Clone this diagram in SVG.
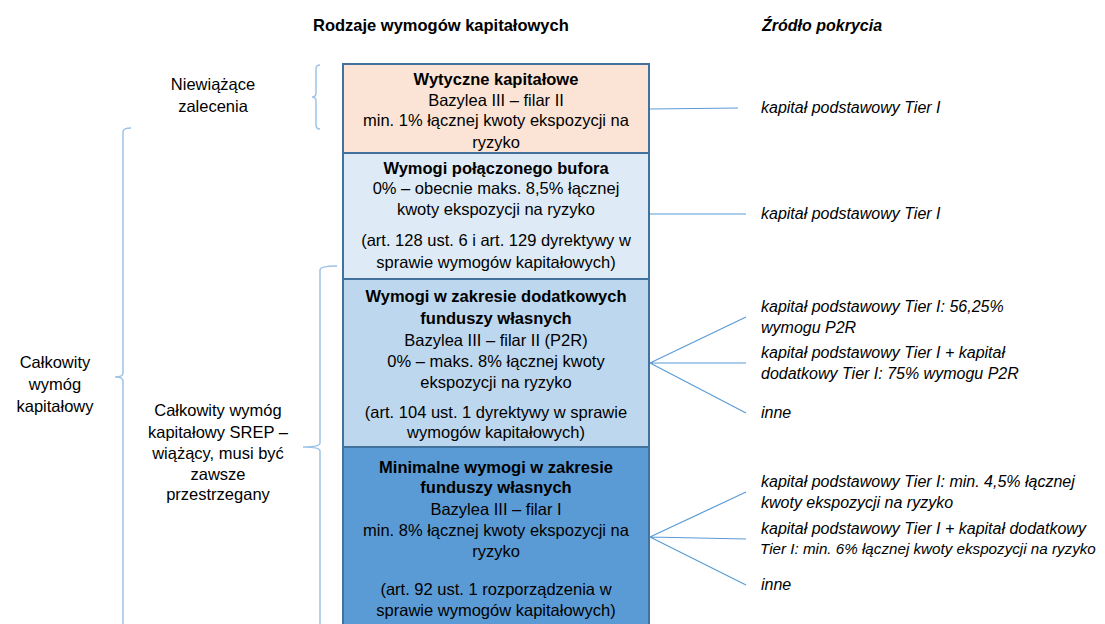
<svg xmlns="http://www.w3.org/2000/svg" width="1105" height="624" viewBox="0 0 1105 624">
<style>
text{font-family:"Liberation Sans",Arial,sans-serif;font-size:16.5px;fill:#000}
.b{font-weight:bold}
.c{text-anchor:middle}
.i{font-style:italic}
.s{font-size:16px}
.box{stroke:#41719C;stroke-width:2}
.br{fill:none;stroke:#9DC3E6;stroke-width:1.5}
.ln{fill:none;stroke:#5B9BD5;stroke-width:1.2}
</style>
<rect width="1105" height="624" fill="#fff"/>
<g id="headers">
<text class="b" x="313" y="31">Rodzaje wymogów kapitałowych</text>
<text class="b i s" x="762" y="31">Źródło pokrycia</text>
</g>
<g id="box1">
<rect class="box" x="343" y="64" width="306" height="89" fill="#FBE4D5"/>
<text class="c" x="496"><tspan class="b" x="496" y="85">Wytyczne kapitałowe</tspan><tspan x="496" y="106">Bazylea III – filar II</tspan><tspan x="496" y="126">min. 1% łącznej kwoty ekspozycji na</tspan><tspan x="496" y="148">ryzyko</tspan></text>
</g>
<g id="box2">
<rect class="box" x="343" y="153" width="306" height="126" fill="#DEEBF7"/>
<text class="c" x="496"><tspan class="b" x="496" y="174">Wymogi połączonego bufora</tspan><tspan x="496" y="194">0% – obecnie maks. 8,5% łącznej</tspan><tspan x="496" y="215">kwoty ekspozycji na ryzyko</tspan><tspan x="496" y="246">(art. 128 ust. 6 i art. 129 dyrektywy w</tspan><tspan x="496" y="268">sprawie wymogów kapitałowych)</tspan></text>
</g>
<g id="box3">
<rect class="box" x="343" y="279" width="306" height="168" fill="#BDD7EE"/>
<text class="c" x="496"><tspan class="b" x="496" y="302">Wymogi w zakresie dodatkowych</tspan><tspan class="b" x="496" y="324">funduszy własnych</tspan><tspan x="496" y="346">Bazylea III – filar II (P2R)</tspan><tspan x="496" y="367">0% – maks. 8% łącznej kwoty</tspan><tspan x="496" y="388">ekspozycji na ryzyko</tspan><tspan x="496" y="418">(art. 104 ust. 1 dyrektywy w sprawie</tspan><tspan x="496" y="438">wymogów kapitałowych)</tspan></text>
</g>
<g id="box4">
<rect class="box" x="343" y="447" width="306" height="190" fill="#5B9BD5"/>
<text class="c" x="496"><tspan class="b" x="496" y="473">Minimalne wymogi w zakresie</tspan><tspan class="b" x="496" y="493">funduszy własnych</tspan><tspan x="496" y="515">Bazylea III – filar I</tspan><tspan x="496" y="536">min. 8% łącznej kwoty ekspozycji na</tspan><tspan x="496" y="557">ryzyko</tspan><tspan x="496" y="595">(art. 92 ust. 1 rozporządzenia w</tspan><tspan x="496" y="616">sprawie wymogów kapitałowych)</tspan></text>
</g>
<g id="label-niewiazace">
<path class="br" d="M320,65 Q316,65 316,69 L316,93 Q316,97 312,97 Q316,97 316,101 L316,125 Q316,129 320,129"/>
<text class="c"><tspan x="213" y="90">Niewiążące</tspan><tspan x="213" y="112">zalecenia</tspan></text>
</g>
<g id="label-calkowity">
<path class="br" d="M131,128 Q123,128 123,132 L123,373 Q123,377 115,377 Q123,377 123,381 L123,630"/>
<text class="c"><tspan x="55" y="368">Całkowity</tspan><tspan x="55" y="390">wymóg</tspan><tspan x="55" y="412">kapitałowy</tspan></text>
</g>
<g id="label-srep">
<path class="br" d="M337,266 Q320,266 320,270 L320,443 Q320,447 303,447 Q320,447 320,451 L320,630"/>
<text class="c"><tspan x="218" y="416">Całkowity wymóg</tspan><tspan x="218" y="438">kapitałowy SREP –</tspan><tspan x="218" y="459">wiążący, musi być</tspan><tspan x="218" y="480">zawsze</tspan><tspan x="218" y="500">przestrzegany</tspan></text>
</g>
<g id="connectors">
<path class="ln" d="M650,109 L738,108"/>
<path class="ln" d="M650,214 L746,214"/>
<path class="ln" d="M650,363 L746,317 M650,363 L746,363 M650,363 L746,413"/>
<path class="ln" d="M650,537 L746,492 M650,537 L746,539 M650,537 L746,585"/>
</g>
<g id="sources">
<text class="i s" x="761" y="113">kapitał podstawowy Tier I</text>
<text class="i s" x="761" y="219">kapitał podstawowy Tier I</text>
<text class="i s" x="761" y="312">kapitał podstawowy Tier I: 56,25%</text>
<text class="i s" x="761" y="333">wymogu P2R</text>
<text class="i s" x="761" y="358">kapitał podstawowy Tier I + kapitał</text>
<text class="i s" x="761" y="379">dodatkowy Tier I: 75% wymogu P2R</text>
<text class="i s" x="761" y="418">inne</text>
<text class="i s" x="761" y="487">kapitał podstawowy Tier I: min. 4,5% łącznej</text>
<text class="i s" x="761" y="508">kwoty ekspozycji na ryzyko</text>
<text class="i s" x="761" y="534">kapitał podstawowy Tier I + kapitał dodatkowy</text>
<text class="i" x="760" y="554" style="font-size:15.2px">Tier I: min. 6% łącznej kwoty ekspozycji na ryzyko</text>
<text class="i s" x="761" y="590">inne</text>
</g>
</svg>
